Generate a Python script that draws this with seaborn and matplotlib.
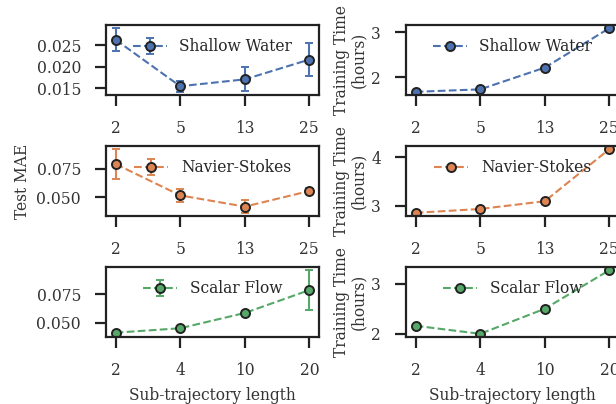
import matplotlib
matplotlib.use("Agg")
import matplotlib.pyplot as plt
import seaborn as sns

sns.set_theme(style="ticks", context="paper")
plt.rcParams["font.family"] = ["DejaVu Serif"]

# sub-trajectory lengths (categorical x)
sw_lengths = ["2", "5", "13", "25"]
ns_lengths = ["2", "5", "13", "25"]
sf_lengths = ["2", "4", "10", "20"]

# test MAE +/- std
sw_mae = [0.0263, 0.0155, 0.0171, 0.0217]
sw_err = [0.0027, 0.0013, 0.0028, 0.0038]
ns_mae = [0.0791, 0.0518, 0.0420, 0.0556]
ns_err = [0.0130, 0.0056, 0.0054, 0.0030]
sf_mae = [0.0411, 0.0450, 0.0584, 0.0785]
sf_err = [0.0010, 0.0010, 0.0015, 0.0175]

# training time in hours
sw_time = [1.67, 1.725, 2.21, 3.09]
ns_time = [2.85, 2.93, 3.09, 4.17]
sf_time = [2.16, 2.00, 2.50, 3.27]

names = ["Shallow Water", "Navier-Stokes", "Scalar Flow"]
lengths = [sw_lengths, ns_lengths, sf_lengths]
maes = [sw_mae, ns_mae, sf_mae]
errs = [sw_err, ns_err, sf_err]
times = [sw_time, ns_time, sf_time]

colors = sns.color_palette("deep")
FS = 11.2

fig = plt.figure(figsize=(6.16, 4.04), dpi=100)
W, H = 616, 404
row_top = [25, 146, 267]
ax_h = 70
ax_w = 213
lefts = [106, 406]

for i in range(3):
    x = list(range(len(lengths[i])))
    bottom = 1 - (row_top[i] + ax_h) / H
    axl = fig.add_axes([lefts[0] / W, bottom, ax_w / W, ax_h / H])
    axr = fig.add_axes([lefts[1] / W, bottom, ax_w / W, ax_h / H])

    axl.errorbar(x, maes[i], yerr=errs[i], color=colors[i], ls="--", lw=1.5,
                 marker="o", ms=6.5, mec="#222222", mew=1.4, capsize=3,
                 elinewidth=1.5, capthick=1.5, label=names[i])
    sns.lineplot(x=x, y=times[i], ax=axr, color=colors[i], linestyle="--", lw=1.5,
                 marker="o", markersize=6.5, markeredgecolor="#222222",
                 markeredgewidth=1.4, label=names[i])

    for ax in (axl, axr):
        ax.set_xticks(x)
        ax.set_xticklabels(lengths[i])
        ax.set_xlim(-0.15, len(x) - 1 + 0.15)
        ax.tick_params(axis="both", length=8, width=1.6, pad=10,
                       labelsize=FS, color="#222222", labelcolor="#333333")
        for s in ax.spines.values():
            s.set_linewidth(1.6)
            s.set_color("#222222")
        ax.legend(loc="upper center", frameon=False, fontsize=FS,
                  borderaxespad=0.45, handlelength=2.2)

    axr.set_ylabel("Training Time\n(hours)", fontsize=FS, color="#333333",
                   linespacing=1.0, labelpad=3)
    if i == 1:
        axl.set_ylabel("Test MAE", fontsize=FS, color="#333333")
    if i == 2:
        axl.set_xlabel("Sub-trajectory length", fontsize=FS, color="#333333", labelpad=6)
        axr.set_xlabel("Sub-trajectory length", fontsize=FS, color="#333333", labelpad=6)

    if i == 0:
        axl.set_yticks([0.015, 0.020, 0.025])
        axl.set_yticklabels(["0.015", "0.020", "0.025"])
        axr.set_yticks([2, 3])
    elif i == 1:
        axl.set_yticks([0.050, 0.075])
        axl.set_yticklabels(["0.050", "0.075"])
        axr.set_yticks([3, 4])
    else:
        axl.set_yticks([0.050, 0.075])
        axl.set_yticklabels(["0.050", "0.075"])
        axr.set_yticks([2, 3])

fig.savefig("out.png", dpi=100)
